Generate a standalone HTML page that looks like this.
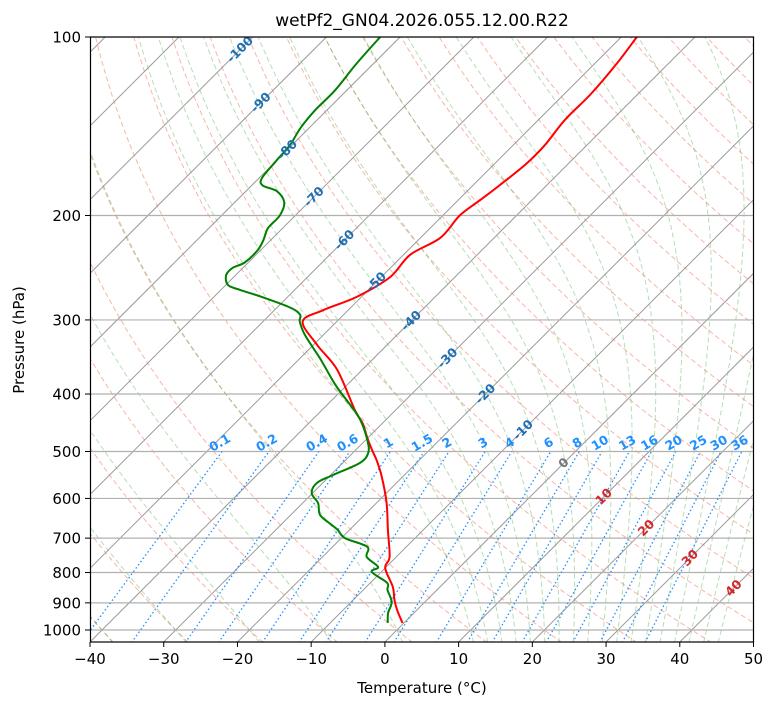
<!DOCTYPE html>
<html><head><meta charset="utf-8"><style>
html,body{margin:0;padding:0;background:#fff;width:775px;height:708px;overflow:hidden}
svg{font-family:"DejaVu Sans","Liberation Sans",sans-serif}
</style></head><body>
<svg id="chart" width="775" height="708" viewBox="0 0 775 708">
<defs><clipPath id="clip"><rect x="90" y="37" width="663.5" height="605"/></clipPath></defs>
<rect x="0" y="0" width="775" height="708" fill="#fff"/>
<g id="bg" clip-path="url(#clip)"></g>
<g id="series" clip-path="url(#clip)"></g>
<g id="labels"></g>
<rect x="90.5" y="37" width="663" height="605" fill="none" stroke="#000" stroke-width="1.2"/>
<g id="axes"></g>
<text x="422" y="26" text-anchor="middle" font-size="17">wetPf2_GN04.2026.055.12.00.R22</text>
<text x="422" y="693" text-anchor="middle" font-size="15">Temperature (°C)</text>
<text transform="translate(24,340) rotate(-90)" text-anchor="middle" font-size="15">Pressure (hPa)</text>
</svg>
<script>
// ---- data ----
const tempP = [973,925,890,846,786,753,678,611,552,517,497,473,448,426,364,331,302,289,274,254,233,218,200,188,178,164,152,138,125,111,100];
const tempT = [-0.2,-2.7,-4.4,-6.4,-10.0,-10.9,-14.8,-18.6,-22.8,-25.8,-27.8,-30.2,-32.7,-35.5,-43.4,-49.4,-54.6,-53.4,-50.6,-48.8,-49.1,-47.3,-47.7,-47.0,-46.4,-45.7,-45.7,-46.4,-46.4,-47.0,-47.9];
const dewP = [973,936,897,856,833,798,783,753,724,700,678,665,640,611,588,565,548,523,503,478,442,417,386,350,318,302,294,286,274,267,262,252,245,240,229,220,210,200,190,182,178,173,162,152,142,133,123,111,100];
const dewT = [-2.2,-3.5,-4.5,-6.7,-7.7,-11.3,-11.1,-14.0,-15.3,-19.5,-21.6,-23.1,-26.0,-27.9,-30.1,-30.8,-29.7,-27.7,-27.9,-29.8,-33.5,-36.9,-41.6,-47.0,-52.5,-55.0,-55.9,-58.2,-63.7,-67.4,-69.7,-71.3,-71.4,-70.5,-70.4,-71.0,-72.0,-72.1,-73.3,-75.8,-78.5,-79.6,-80.0,-80.3,-81.2,-81.6,-81.6,-82.3,-82.7];
const xTicks = [-40,-30,-20,-10,0,10,20,30,40,50];
const pTicks = [100,200,300,400,500,600,700,800,900,1000];
const mixW = [0.1,0.2,0.4,0.6,1,1.5,2,3,4,6,8,10,13,16,20,25,30,36];
const mixLabels = ["0.1","0.2","0.4","0.6","1","1.5","2","3","4","6","8","10","13","16","20","25","30","36"];
const isoLabelT = [-100,-90,-80,-70,-60,-50,-40,-30,-20,-10,0,10,20,30,40];
const isoLabelP = [105,129,155,186,220,259,301,348,400,460,523,596,673,756,850];

// ---- axes functions ----
const X0=90, X1=753.5, TMIN=-40, TMAX=50, YB=642;
const PX=(X1-X0)/(TMAX-TMIN);
function Y(p){return 630-593*Math.log10(1000/p);}
function X(T,p){return X0+(T-TMIN)*PX+(YB-Y(p));}
const NS='http://www.w3.org/2000/svg';
function mk(tag,attrs,parent){const e=document.createElementNS(NS,tag);for(const k in attrs)e.setAttribute(k,attrs[k]);parent.appendChild(e);return e;}
const bg=document.getElementById('bg'),ser=document.getElementById('series'),lab=document.getElementById('labels'),ax=document.getElementById('axes');
function path(pts){return pts.map((q,i)=>(i?'L':'M')+q[0].toFixed(1)+' '+q[1].toFixed(1)).join('');}
function smooth(pts){
  let d='M'+pts[0][0].toFixed(1)+' '+pts[0][1].toFixed(1);
  for(let i=0;i<pts.length-1;i++){
    const p0=pts[Math.max(0,i-1)],p1=pts[i],p2=pts[i+1],p3=pts[Math.min(pts.length-1,i+2)];
    const c1=[p1[0]+(p2[0]-p0[0])/6,p1[1]+(p2[1]-p0[1])/6],c2=[p2[0]-(p3[0]-p1[0])/6,p2[1]-(p3[1]-p1[1])/6];
    d+='C'+c1[0].toFixed(1)+' '+c1[1].toFixed(1)+' '+c2[0].toFixed(1)+' '+c2[1].toFixed(1)+' '+p2[0].toFixed(1)+' '+p2[1].toFixed(1);
  }
  return d;
}
const plevs=[];for(let p=1050;p>=99;p-=5)plevs.push(p);

// dry adiabats
for(let t0=-40;t0<=200;t0+=10){
  const th=t0+273.15;
  const pts=plevs.map(p=>[X(th*Math.pow(p/1000,0.2857)-273.15,p),Y(p)]);
  const e=mk('path',{d:path(pts),fill:'none',stroke:'#f4836a','stroke-width':1,'stroke-dasharray':'5,3',opacity:0.6},bg);
  
  
}
// moist adiabats
function es(T){return 6.112*Math.exp(17.67*T/(T+243.5));}
function dTdp(T,p){const Tk=T+273.15,rs=0.622*es(T)/(p-es(T));const Rd=287.04,Cp=1005.7,Lv=2.501e6;
  return (Rd*Tk+Lv*rs)/(Cp+Lv*Lv*rs*0.622/(Rd*Tk*Tk))/p;}
const moistT0=[-40,-30,-20,-10,0,10,12,14,16,18,20,22,24,26,28,30,32,34,36,38,40,42,44];
for(const t0 of moistT0){
  let pts=[];let T=t0,p=1000;
  let T2=t0;for(let q=1000;q<1050;q+=1){T2+=dTdp(T2,q);}
  pts.push([X(T2,1050),Y(1050)]);
  pts.push([X(T,p),Y(p)]);
  while(p>100){const h=-2;const k1=dTdp(T,p),k2=dTdp(T+h/2*k1,p+h/2);T+=h*k2;p+=h;if(p%10===0)pts.push([X(T,p),Y(p)]);}
  const e=mk('path',{d:path(pts),fill:'none',stroke:'#2ca02c','stroke-width':1,'stroke-dasharray':'5,3',opacity:0.35},bg);
  
  
}
// isotherms
for(let T=-160;T<=50;T+=10){
  const e=mk('line',{x1:X(T,1050),y1:Y(1050),x2:X(T,100),y2:Y(100),stroke:'#9a9a9a','stroke-width':1},bg);
  
  
}
// horizontal grid
pTicks.forEach(p=>{
  const e=mk('line',{x1:X0,x2:X1,y1:Y(p),y2:Y(p),stroke:'#b0b0b0','stroke-width':1.2},bg);
  
  
});
// mixing ratio lines
function tdFromW(w,p){const ww=w/1000;const e=p*ww/(0.622+ww);const l=Math.log(e/6.112);return 243.5*l/(17.67-l);}
mixW.forEach((w,i)=>{
  const pts=[1050,500].map(p=>[X(tdFromW(w,p),p),Y(p)]);
  const e=mk('path',{d:path(pts),fill:'none',stroke:'#1e90ff','stroke-width':1.3,'stroke-dasharray':'1.5,2.5'},bg);
  
  
  const x=X(tdFromW(w,500),500),y=Y(500)-5;
  const t=mk('text',{x:x,y:y,'font-size':12.5,'font-weight':'bold',fill:'#1e90ff','text-anchor':'middle',transform:`rotate(-30 ${x} ${y})`},lab);
  t.textContent=mixLabels[i];
  
  
});
// isotherm labels
isoLabelT.forEach((T,i)=>{
  const p=isoLabelP[i];const x=X(T,p),y=Y(p);
  const col=T<0?'#1f6fb4':(T===0?'#777':'#d62728');
  const t=mk('text',{x:x,y:y+4,'font-size':12.5,'font-weight':'bold',fill:col,'text-anchor':'middle',transform:`rotate(-45 ${x} ${y})`},lab);
  t.textContent=String(T);
  
  
});
// series
const tl=mk('path',{d:smooth(tempP.map((p,i)=>[X(tempT[i],p),Y(p)])),fill:'none',stroke:'#ff0000','stroke-width':2,'stroke-linejoin':'round'},ser);


const dl=mk('path',{d:smooth(dewP.map((p,i)=>[X(dewT[i],p),Y(p)])),fill:'none',stroke:'#008000','stroke-width':2,'stroke-linejoin':'round'},ser);


// ticks
xTicks.forEach(T=>{
  const x=X0+(T-TMIN)*PX;
  const l=mk('line',{x1:x,x2:x,y1:YB,y2:YB+5,stroke:'#000','stroke-width':1},ax);
  
  
  const t=mk('text',{x:x,y:YB+22,'font-size':15,'text-anchor':'middle'},ax);
  t.textContent=(T<0?'\u2212'+(-T):String(T));
  
  
});
pTicks.forEach(p=>{
  const y=Y(p);
  const l=mk('line',{x1:X0-5,x2:X0,y1:y,y2:y,stroke:'#000','stroke-width':1},ax);
  
  
  const t=mk('text',{x:X0-9,y:y+5.5,'font-size':15,'text-anchor':'end'},ax);
  t.textContent=String(p);
  
  
});
</script>
</body></html>
